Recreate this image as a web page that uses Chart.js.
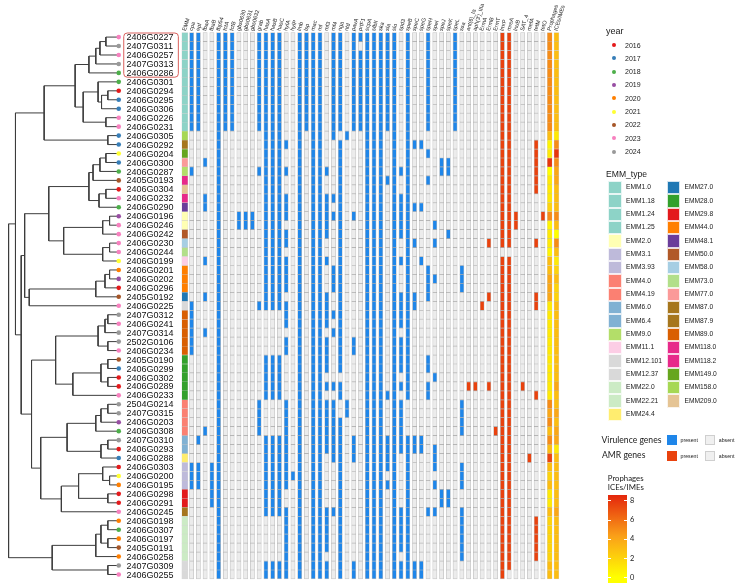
<!DOCTYPE html>
<html><head><meta charset="utf-8">
<script src="https://cdn.jsdelivr.net/npm/chart.js@4.4.1/dist/chart.umd.min.js"></script>
<style>
html,body{margin:0;padding:0;background:#fff;}
#wrap{position:relative;width:738px;height:586px;overflow:hidden;background:#fff;}
#c{position:absolute;left:0;top:0;}
.lg{position:absolute;font-family:"Liberation Sans",Arial,sans-serif;color:#1a1a1a;white-space:nowrap;}
.lato{font-family:Lato,"Open Sans",sans-serif;}
.sw{position:absolute;box-sizing:border-box;}
</style></head>
<body><div id="wrap"><canvas id="c" width="738" height="586"></canvas></div>
<script>
// ---------------- DATA ----------------
const samples = ["2406G0227","2407G0311","2406G0257","2407G0313","2406G0286","2406G0301","2406G0294","2406G0295","2406G0306","2406G0226","2406G0231","2406G0305","2406G0292","2406G0204","2406G0300","2406G0287","2405G0193","2406G0304","2406G0232","2406G0290","2406G0196","2406G0246","2406G0242","2406G0230","2406G0244","2406G0199","2406G0201","2406G0202","2406G0296","2405G0192","2406G0225","2407G0312","2406G0241","2407G0314","2502G0106","2406G0234","2405G0190","2406G0299","2406G0302","2406G0289","2406G0233","2504G0214","2407G0315","2406G0203","2406G0308","2407G0310","2406G0293","2406G0288","2406G0303","2406G0200","2406G0195","2406G0298","2406G0291","2406G0245","2406G0198","2406G0307","2406G0197","2405G0191","2406G0258","2407G0309","2406G0255"];
const sampleYears = [2023,2024,2023,2024,2018,2018,2016,2017,2017,2023,2023,2017,2017,2021,2017,2018,2022,2016,2023,2018,2019,2023,2023,2023,2023,2021,2020,2019,2016,2022,2023,2024,2023,2024,2024,2023,2022,2017,2016,2016,2023,2024,2024,2019,2018,2024,2016,2017,2016,2021,2020,2016,2016,2023,2020,2018,2020,2022,2020,2024,2023];
const sampleEmm = ["EMM1.0","EMM1.0","EMM1.0","EMM1.0","EMM1.0","EMM1.0","EMM1.0","EMM1.0","EMM1.0","EMM1.0","EMM1.0",
 "EMM158.0","EMM87.0","EMM149.0","EMM77.0","EMM9.0","EMM118.0","EMM209.0","EMM118.2","EMM48.1",
 "EMM2.0","EMM2.0","EMM50.0","EMM58.0","EMM73.0","EMM11.1","EMM44.0","EMM44.0","EMM44.0","EMM27.0",
 "EMM12.37","EMM89.0","EMM89.0","EMM89.0","EMM89.0","EMM89.0","EMM28.0","EMM28.0","EMM28.0","EMM28.0","EMM28.0",
 "EMM4.0","EMM4.0","EMM4.0","EMM4.0","EMM6.0","EMM6.0","EMM24.4","EMM3.1","EMM3.1","EMM3.1","EMM29.8","EMM29.8","EMM87.9",
 "EMM22.0","EMM22.0","EMM22.0","EMM22.0","EMM22.0","EMM12.101","EMM12.101"];
const yearLevels = [2016,2017,2018,2019,2020,2021,2022,2023,2024];
const emmLevels = ["EMM1.0","EMM1.18","EMM1.24","EMM1.25","EMM2.0","EMM3.1","EMM3.93","EMM4.0","EMM4.19","EMM6.0","EMM6.4","EMM9.0","EMM11.1","EMM12.101","EMM12.37","EMM22.0","EMM22.21","EMM24.4",
 "EMM27.0","EMM28.0","EMM29.8","EMM44.0","EMM48.1","EMM50.0","EMM58.0","EMM73.0","EMM77.0","EMM87.0","EMM87.9","EMM89.0","EMM118.0","EMM118.2","EMM149.0","EMM158.0","EMM209.0"];
const virulenceGenes = ["cpa","epf","fbaA","fbaB","fbp54","fctA","fctB","gbs0630","gbs0631","gbs0632","grab","hasA","hasB","hasC","hylA","hylP","lmb","lsp","mac","mf","mf3","mf4","nga","ntd","pavA","prtF1","scpA","sfbII","ska","sla","slo","spd3","speB","speC","speG","speH","speI","speJ","speK","speL","ssa"];
const virulencePresent = ["0-10,15,30-35,48-50","0-10,45,48-50","14,18-19,25,29,33,44","48-52","all","0-10","0-10","20-21","20-21","20-21",
 "0-10,15,30,41-44","0-30,36-40,45-53,59-60","0-30,36-40,45-53,59-60","0-30,36-40,45-53,59-60",
 "12,15,18-20,22-23,25-28,30-32,34-35,41-50,53-60","49","all","0-10","all","all",
 "15,18-22,25,29-32,34-37,39,41-46,53-57,59-60","0-11,18,20,26-28,31,33,39,41-47,53","0-10,12-37,39-40,43-60","11,41-42",
 "0-10,20,34-35,45-47,59-60","0,2-10","all","all","all","0-10,16,40,45-48,50","all",
 "15,18-22,25,29-32,34-37,39,41-46,53-57,59-60","0-40,45-60","12,19,23,29-30,45-46,59-60","12,19,25,45-46,59-60",
 "0-10,13,16,26-29,36-37,39-40,53","21,23,27,38,46-48,50,53","14-15,51-52","14-15,22,51-52","0-10","26-28,41-44,48-50,53-58"];
const amrGenes = ["ant(6)_Ia","aph(3')_IIIa","ErmA","ErmB","ErmT","lmrP","mreA","lnuB","SAT_4","mefA","tetM","tetO"];
const amrPresent = ["39","39","30","23,29,39","44","0-23,25-60","0-23,25-59","20-21","39","47","12-17,23,29-30,40,54-58","20"];
const prophages = [5,5,5,5,5,5,5,5,5,5,5, 3,0.5,1,8,0,1,1,1,2, 5,0.5,1,1,0.5,3,3,4,4,4, 1, 1,1,1,1,1, 1,1,1,1,1, 5,4,5,3, 5,3,7.5, 3,2,3, 1,1, 3, 2,2,2,2,2, 3,3];
const iceImes = [3,3,3,3,3,3,3,3,3,3,3, 1,5,8,5,4,4,3,3,3, 5,3,0,5,3,1,2,3,2,2, 3, 3,3,3,3,3, 3,3,3,4,3, 3,4,3,4, 4,1,3, 3,3,3, 3,3, 4, 3,3,3,3,3, 3,3];
const heatTicks = [0,2,4,6,8];
// tree clades: [node depth, ...children]; leaves are sample row indices; leaf depth = 100
const cladeA = [62,[74,[80,[83.6,[88.8,0,1],2],3],4],[69,[82,5,[85,[90.5,6,7],8]],[88.8,9,10]]];
const cladeB = [90.5,11,12];
const cladeC = [74,[77.6,[83.6,[88.8,13,14],15],16],[82.8,[88.8,17,18],19]];
const cladeD = [86,[92,20,21],22];
const cladeE = [86,[92,23,24],25];
const cladeF = [80,[88,[92,26,27],28],29];
const cladeH = [82,[88,[90.5,31,32],33],[90.5,34,35]];
const cladeI = [84.5,[90.5,36,37],[90.5,38,39]];
const cladeJ = [80,[84.5,[90.5,41,42],43],44];
const cladeK = [84.5,[90.5,45,46],47];
const cladeL = [86,48,[92,49,50]];
const cladeM = [90.5,51,52];
const cladeO = [80,[84.5,[90.5,54,55],[90.5,56,57]],58];
const cladeP = [90.5,59,60];
const tree = [4,
  [10,
    [35, cladeA, cladeB],
    [15,
      [18, [39, cladeC, [52, cladeD, cladeE]], [22, cladeF, 30]],
      [24, [45, cladeH, [60, cladeI, 40]],
           [32, [55, cladeJ, cladeK], [50, [65, cladeL, cladeM], 53]]]]],
  [42, cladeO, cladeP]];

// ---------------- STYLES ----------------
const yearColors = {2016:"#e41a1c",2017:"#377eb8",2018:"#4daf4a",2019:"#984ea3",2020:"#ff7f00",2021:"#ffff33",2022:"#a65628",2023:"#f781bf",2024:"#999999"};
const emmColors = {"EMM1.0":"#8dd3c7","EMM1.18":"#8dd3c7","EMM1.24":"#8dd3c7","EMM1.25":"#8dd3c7","EMM2.0":"#ffffb3","EMM3.1":"#bebada","EMM3.93":"#bebada","EMM4.0":"#fb8072","EMM4.19":"#fb8072","EMM6.0":"#80b1d3","EMM6.4":"#80b1d3","EMM9.0":"#b3de69","EMM11.1":"#fccde5","EMM12.101":"#d9d9d9","EMM12.37":"#d9d9d9","EMM22.0":"#ccebc5","EMM22.21":"#ccebc5","EMM24.4":"#ffed6f",
 "EMM27.0":"#1f78b4","EMM28.0":"#33a02c","EMM29.8":"#e31a1c","EMM44.0":"#ff7f00","EMM48.1":"#6a3d9a","EMM50.0":"#b15928","EMM58.0":"#a6cee3","EMM73.0":"#b2df8a","EMM77.0":"#fb9a99","EMM87.0":"#a6761d","EMM87.9":"#a6761d","EMM89.0":"#d95f02","EMM118.0":"#e7298a","EMM118.2":"#e7298a","EMM149.0":"#66a61e","EMM158.0":"#a6d854","EMM209.0":"#e5c494"};
const VIR_COL = "#1f86e9", AMR_COL = "#e9420e", ABS_COL = "#ececec";
const heatStops = [[0,[255,255,0]],[0.5,[250,160,25]],[1,[228,38,12]]];
const HEAT_MAX = 8.6;
function heatColor(v){
  const t=Math.max(0,Math.min(1,v/HEAT_MAX));
  for(let i=1;i<heatStops.length;i++){
    const [t1,c1]=heatStops[i], [t0,c0]=heatStops[i-1];
    if(t<=t1){const f=(t-t0)/(t1-t0);return "rgb("+c0.map((a,k)=>Math.round(a+(c1[k]-a)*f)).join(",")+")";}
  }
}
function parseRows(spec,n){
  const s=new Set();
  if(spec==="all"){for(let i=0;i<n;i++)s.add(i);return s;}
  spec.split(",").forEach(p=>{const [a,b]=p.split("-").map(Number);for(let i=a;i<=(isNaN(b)||b===undefined?a:b);i++)s.add(i);});
  return s;
}

// ---------------- BUILD ----------------
const N = samples.length;
const genes = virulenceGenes.concat(amrGenes);
const presence = virulencePresent.concat(amrPresent).map(s=>parseRows(s,N));
const nVir = virulenceGenes.length;
const geneData=[], geneFill=[];
genes.forEach((g,c)=>{
  for(let r=0;r<N;r++){
    geneData.push({x:[c-0.31,c+0.31],y:r});
    geneFill.push(presence[c].has(r)?(c<nVir?VIR_COL:AMR_COL):ABS_COL);
  }
});
const emmCol=-1;
const emmData=samples.map((s,r)=>({x:[emmCol-0.45,emmCol+0.45],y:r}));
const emmFill=sampleEmm.map(e=>emmColors[e]);
const numCols=[genes.length,genes.length+1];
const numData=[], numFill=[];
[prophages,iceImes].forEach((arr,k)=>arr.forEach((v,r)=>{numData.push({x:[numCols[k]-0.36,numCols[k]+0.36],y:r});numFill.push(heatColor(v));}));

// tree layout
const treeSegs=[];
function lay(node){
  if(typeof node==="number") return {y:node,h:100};
  const [h,...kids]=node;
  const ks=kids.map(lay);
  const y=(ks[0].y+ks[ks.length-1].y)/2;
  treeSegs.push({x:h,y:ks[0].y},{x:h,y:ks[ks.length-1].y},{x:null,y:null});
  ks.forEach(k=>treeSegs.push({x:h,y:k.y},{x:k.h,y:k.y},{x:null,y:null}));
  return {y,h};
}
lay(tree);
const dotData=samples.map((s,r)=>({x:100,y:r}));
const dotFill=sampleYears.map(y=>yearColors[y]);

const headerNames=["EMM"].concat(genes,["Prophages","ICEs/IMEs"]);
const headerCols=headerNames.map((n,i)=>i-1);

const textPlugin={
  id:"texts",
  afterDatasetsDraw(chart){
    const ctx=chart.ctx, ys=chart.scales.y, xt=chart.scales.xTree, xh=chart.scales.xHeat;
    ctx.save();
    const lx=xt.getPixelForValue(100)+7.8;
    ctx.fillStyle="#111";ctx.textBaseline="middle";ctx.textAlign="left";
    ctx.font='9px "Liberation Sans", Arial, sans-serif';
    samples.forEach((s,r)=>ctx.fillText(s,lx,ys.getPixelForValue(r)+0.6));
    // highlight box around first clade
    const bTop=ys.getPixelForValue(-0.5)+0.4, bBot=ys.getPixelForValue(4.5)-0.2;
    const bL=lx-2.8, bR=lx+51.8, rad=3.5;
    ctx.strokeStyle="#d9605c";ctx.lineWidth=1;
    ctx.beginPath();
    ctx.moveTo(bL+rad,bTop);ctx.lineTo(bR-rad,bTop);ctx.arcTo(bR,bTop,bR,bTop+rad,rad);
    ctx.lineTo(bR,bBot-rad);ctx.arcTo(bR,bBot,bR-rad,bBot,rad);
    ctx.lineTo(bL+rad,bBot);ctx.arcTo(bL,bBot,bL,bBot-rad,rad);
    ctx.lineTo(bL,bTop+rad);ctx.arcTo(bL,bTop,bL+rad,bTop,rad);
    ctx.closePath();ctx.stroke();
    // column headers
    const top=ys.getPixelForValue(-0.5);
    ctx.font='5.6px "Liberation Sans", Arial, sans-serif';
    ctx.fillStyle="#1a1a1a";
    headerNames.forEach((n,i)=>{
      ctx.save();
      ctx.translate(xh.getPixelForValue(headerCols[i])-0.5,top-1.8);
      ctx.rotate(-74*Math.PI/180);
      ctx.textBaseline="middle";
      ctx.fillText(n,0,0);
      ctx.restore();
    });
    ctx.restore();
  }
};

const cellCommon={type:"bar",indexAxis:"y",xAxisID:"xHeat",yAxisID:"y",grouped:false,barPercentage:1,categoryPercentage:1,borderSkipped:false,order:3};
new Chart(document.getElementById("c"),{
  type:"bar",
  data:{datasets:[
    Object.assign({},cellCommon,{label:"genes",data:geneData,backgroundColor:geneFill,borderColor:"rgba(70,70,70,0.32)",borderWidth:0.7}),
    Object.assign({},cellCommon,{label:"EMM_type",data:emmData,backgroundColor:emmFill,borderColor:"rgba(150,150,150,0.35)",borderWidth:0.5}),
    Object.assign({},cellCommon,{label:"Prophages ICEs/IMEs",data:numData,backgroundColor:numFill,borderColor:"rgba(90,90,90,0.25)",borderWidth:0.5}),
    {type:"line",label:"tree",xAxisID:"xTree",yAxisID:"y",data:treeSegs,borderColor:"#3d3d3d",borderWidth:1,pointRadius:0,spanGaps:false,fill:false,tension:0,order:2},
    {type:"scatter",label:"year",xAxisID:"xTree",yAxisID:"y",data:dotData,pointRadius:2.3,pointBorderWidth:0,pointBackgroundColor:dotFill,backgroundColor:dotFill,order:1}
  ]},
  options:{
    responsive:false,animation:false,events:[],devicePixelRatio:1,
    layout:{padding:0},
    plugins:{legend:{display:false},tooltip:{enabled:false}},
    scales:{
      xHeat:{type:"linear",min:-27.77,max:80.28,display:false,offset:false,grid:{offset:false}},
      xTree:{type:"linear",min:0,max:636.2,display:false,offset:false,grid:{offset:false}},
      y:{type:"linear",reverse:true,min:-3.694,max:60.84,display:false,offset:false,grid:{offset:false}}
    }
  },
  plugins:[textPlugin]
});

// ---------------- LEGENDS (HTML) ----------------
const wrap=document.getElementById("wrap");
function txt(text,left,cy,size,extra){
  const d=document.createElement("div");d.className="lg"+(extra?" "+extra:"");
  d.textContent=text;
  Object.assign(d.style,{left:left+"px",top:(cy-size/2)+"px",fontSize:size+"px",lineHeight:size+"px"});
  wrap.appendChild(d);return d;
}
function box(left,top,w,h,bg,border){
  const d=document.createElement("div");d.className="sw";
  Object.assign(d.style,{left:left+"px",top:top+"px",width:w+"px",height:h+"px",background:bg});
  if(border)d.style.border=border;
  wrap.appendChild(d);return d;
}
txt("year",606,31.5,9);
yearLevels.forEach((y,i)=>{
  const cy=45+13.33*i;
  const d=box(612.2,cy-1.9,3.8,3.8,yearColors[y]);d.style.borderRadius="50%";
  txt(String(y),625,cy,7);
});
txt("EMM_type",606,174,8.6);
emmLevels.forEach((e,i)=>{
  const col=i<18?0:1, k=i<18?i:i-18;
  const top=181+13.33*k;
  box(col?666.5:608.2,top,13.6,13.33,emmColors[e],"0.5px solid rgba(255,255,255,0.8)");
  txt(e,col?684.5:626,top+6.8,6.7);
});
txt("Virulence genes",601.5,439.8,8.6,"lato");
box(666.6,435.2,10.4,9.8,VIR_COL);
txt("present",680.6,440.2,5.2);
box(705,435.2,10,9.8,"#f0f0f0","0.6px solid #cfcfcf");
txt("absent",718.8,440.2,5.2);
txt("AMR genes",602,455.5,8.6,"lato");
box(666.6,451.2,10.4,9.8,AMR_COL);
txt("present",680.6,456.2,5.2);
box(705,451.2,10,9.8,"#f0f0f0","0.6px solid #cfcfcf");
txt("absent",718.8,456.2,5.2);
txt("Prophages",607.8,478.8,7.8,"lato");
txt("ICEs/IMEs",607.8,487.8,7.8,"lato");
const cbTop=495, cbH=88.3, vTop=8.6, vBot=-0.6;
const stopCss=heatStops.slice().reverse().map(([t,c])=>"rgb("+c.join(",")+") "+(((vTop-t*HEAT_MAX)/(vTop-vBot))*100).toFixed(1)+"%").join(",");
box(608.3,cbTop,18.4,cbH,"linear-gradient(to bottom,"+stopCss+",rgb(255,255,0) 100%)");
heatTicks.forEach(v=>{
  const y=cbTop+(vTop-v)/(vTop-vBot)*cbH;
  box(608.3,y-0.4,3.2,0.8,"#fff");
  box(623.5,y-0.4,3.2,0.8,"#fff");
  txt(String(v),630,y,7.4,"lato");
});
</script>
</body></html>
